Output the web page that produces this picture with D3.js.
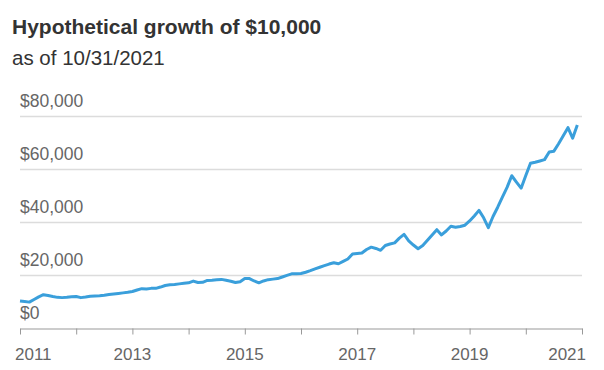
<!DOCTYPE html>
<html>
<head>
<meta charset="utf-8">
<script src="https://cdn.jsdelivr.net/npm/d3@7"></script>
<style>
  body { margin: 0; background: #fff; font-family: "Liberation Sans", Arial, sans-serif; }
</style>
</head>
<body>
<div id="chart"></div>
<script>
// チャートのデータ（月次、$10,000 の仮想成長）
const startYear = 2011;
const growth = [
  10000, 9800, 9600, 10600, 11600, 12400, 12100, 11700, 11400, 11300, 11400, 11600,
  11750, 11300, 11500, 11800, 11900, 12000, 12200, 12500, 12700, 12900, 13100, 13300,
  13600, 14200, 14700, 14600, 14800, 14800, 15300, 15900, 16200, 16300, 16500, 16700,
  16900, 17550, 17000, 17100, 17800, 17900, 18100, 18200, 17900, 17500, 17000, 17300,
  18500, 18500, 17600, 16900, 17600, 18100, 18300, 18500, 19100, 19700, 20300, 20300,
  20400, 20900, 21500, 22200, 22800, 23400, 24000, 24500, 24100, 25000, 25900, 27800,
  28000, 28200, 29500, 30400, 29900, 29200, 31000, 31600, 32000, 33800, 35200, 32800,
  31200, 29800, 31000, 33000, 35000, 37000, 35000, 36500, 38300, 37900, 38200, 38700,
  40300, 42200, 44300, 41500, 37800, 42000, 45500, 49300, 53000, 57400, 55000, 52700,
  57500, 62100, 62500, 63000, 63500, 66400, 66700, 69500, 72500, 75600, 71600, 76600
];
const yTicks = [0, 20000, 40000, 60000, 80000];
const xTicks = d3.range(2011, 2022);
const xLabels = [2011, 2013, 2015, 2017, 2019, 2021];

const width = 604;
const height = 370;
const svg = d3.select("#chart").append("svg")
    .attr("width", width)
    .attr("height", height);

// タイトル
svg.append("text")
    .attr("x", 12).attr("y", 34)
    .attr("fill", "#333")
    .style("font-size", "21px")
    .style("font-weight", "bold")
    .text("Hypothetical growth of $10,000");
svg.append("text")
    .attr("x", 12).attr("y", 65)
    .attr("fill", "#333")
    .style("font-size", "20.5px")
    .text("as of 10/31/2021");

// スケール
const x = d3.scaleLinear().domain([2011, 2021]).range([20, 582]);
const y = d3.scaleLinear().domain([0, 80000]).range([327.5, 116]);

// 横のグリッド線とラベル
svg.selectAll(".grid")
    .data(yTicks.filter(d => d > 0))
    .enter().append("line")
    .attr("x1", 20).attr("x2", 582)
    .attr("y1", d => Math.round(y(d)) + 0.5)
    .attr("y2", d => Math.round(y(d)) + 0.5)
    .attr("stroke", "#dcdcdc")
    .attr("stroke-width", 1.5);

svg.selectAll(".ylab")
    .data(yTicks)
    .enter().append("text")
    .attr("x", 20)
    .attr("y", d => y(d) - 9)
    .attr("fill", "#666")
    .style("font-size", "17.5px")
    .text(d => "$" + d3.format(",")(d));

// x軸
const xAxis = svg.append("g")
    .attr("transform", `translate(0,${Math.round(y(0)) + 0.5})`)
    .call(d3.axisBottom(x).tickValues(xTicks).tickSize(6).tickSizeOuter(0).tickFormat(""));
xAxis.select(".domain").attr("stroke", "#999");
xAxis.selectAll(".tick line").attr("stroke", "#999");

// 年ラベル（両端ははみ出さないように寄せる）
svg.selectAll(".xlab")
    .data(xLabels)
    .enter().append("text")
    .attr("x", (d, i) => i === 0 ? 15 : (i === xLabels.length - 1 ? 586 : x(d)))
    .attr("y", 360)
    .attr("text-anchor", (d, i) => i === 0 ? "start" : (i === xLabels.length - 1 ? "end" : "middle"))
    .attr("fill", "#666")
    .style("font-size", "17px")
    .text(d => d);

// 成長ライン
const line = d3.line()
    .x((d, i) => x(startYear + i / 12))
    .y(d => y(d));

svg.append("path")
    .datum(growth)
    .attr("d", line)
    .attr("fill", "none")
    .attr("stroke", "#3a9fdb")
    .attr("stroke-width", 3)
    .attr("stroke-linejoin", "round");
</script>
</body>
</html>
